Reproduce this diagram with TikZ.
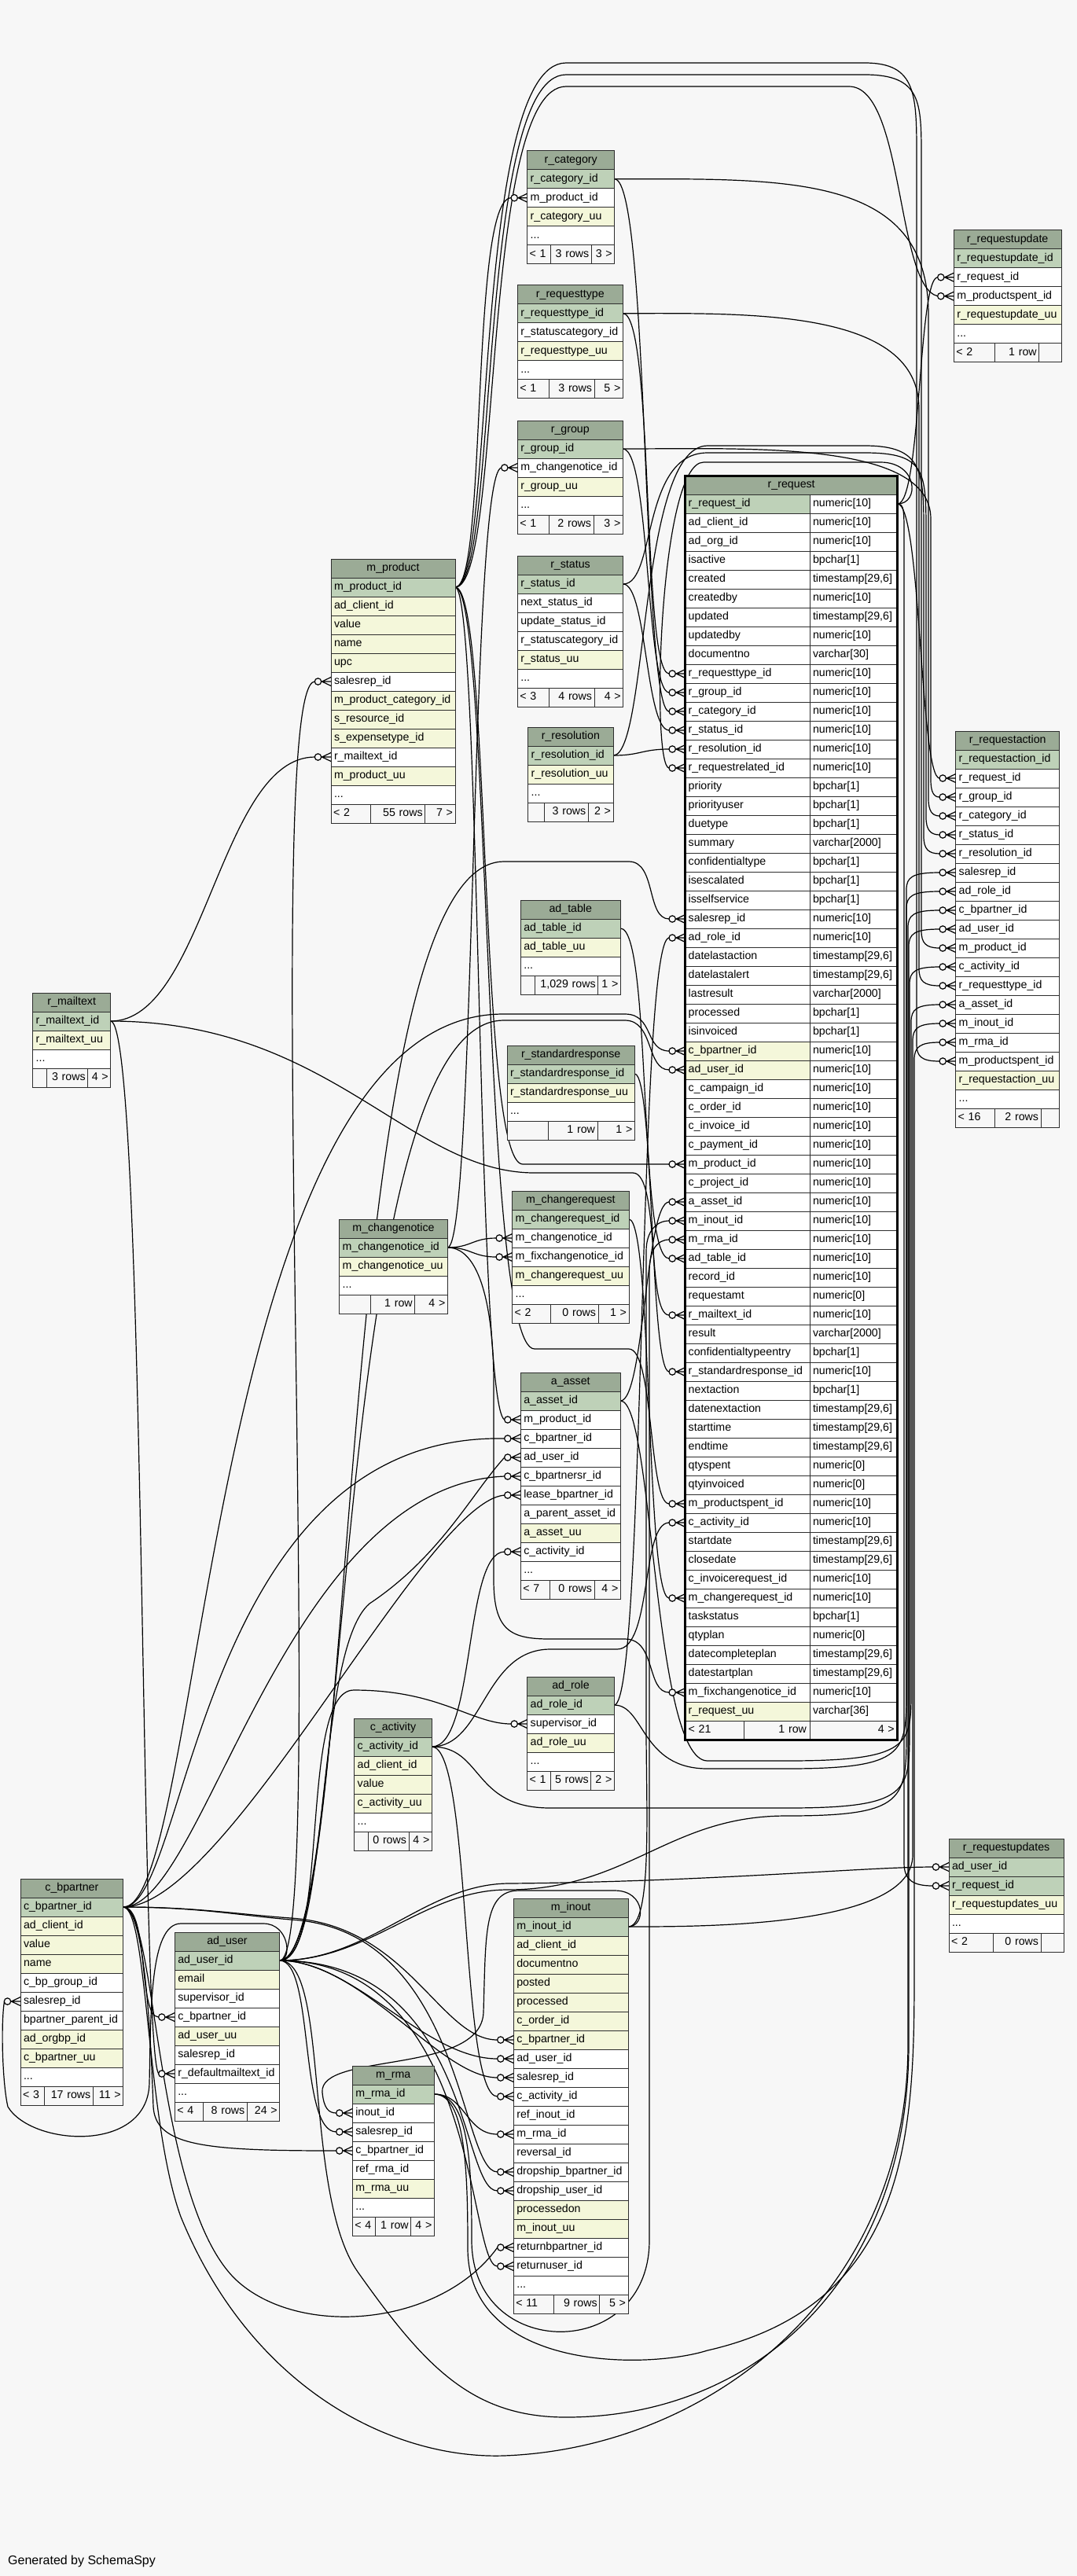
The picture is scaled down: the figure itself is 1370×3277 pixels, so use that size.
\documentclass[tikz,border=0pt]{standalone}
\usepackage{fontspec}
\setmainfont{Liberation Sans}
\pgfdeclarelayer{back}
\pgfdeclarelayer{edges}
\pgfsetlayers{back,edges,main}
\definecolor{hdc}{HTML}{9BAB96}
\definecolor{pkc}{HTML}{BED1B8}
\definecolor{ixc}{HTML}{F4F7DA}
\definecolor{bgc}{HTML}{F7F7F7}
\definecolor{bdc}{HTML}{2E2E2E}
\newcommand\cellfont{\fontsize{14.2}{17}\selectfont}
\tikzset{
  cell/.style={draw=bdc, line width=1pt, inner xsep=4pt, inner ysep=0pt, outer sep=0pt,
    minimum height=24pt, text height=11pt, text depth=3.5pt, font=\cellfont,
    anchor=north west, align=left},
  hd/.style={fill=hdc, align=center},
  pk/.style={fill=pkc},
  ix/.style={fill=ixc},
  pl/.style={fill=white},
  ft/.style={fill=bgc},
  fkline/.style={draw=black, line width=1.2pt},
}
\newcommand\tstart[5]{%
  \pgfmathsetmacro\tbX{#2}\pgfmathsetmacro\tbY{#3}\pgfmathsetmacro\tbW{#4}%
  \pgfmathsetmacro\tbT{#4-8}%
  \node[cell,hd,text width=\tbT pt] (#1) at (\tbX,\tbY) {\detokenize{#5}};%
  \pgfmathsetmacro\tbY{#3+24}}
\newcommand\trow[3]{%
  \node[cell,#3,text width=\tbT pt] (#1-#2) at (\tbX,\tbY) {\detokenize{#2}};%
  \pgfmathsetmacro\tbY{\tbY+24}}
\newcommand\tdots[1]{%
  \node[cell,pl,text width=\tbT pt] (#1-dots) at (\tbX,\tbY) {...};%
  \pgfmathsetmacro\tbY{\tbY+24}}
\newcommand\tfoot[6]{%
  \pgfmathsetmacro\fwa{#2-\tbX-6}\pgfmathsetmacro\fwb{#3-#2-6}\pgfmathsetmacro\fwc{\tbX+\tbW-#3-6}%
  \node[cell,ft,inner xsep=3pt,text width=\fwa pt] (#1-f1) at (\tbX,\tbY) {\mbox{#4}};%
  \node[cell,ft,inner xsep=3pt,text width=\fwb pt,align=right] (#1-f2) at (#2,\tbY) {\mbox{#5}};%
  \node[cell,ft,inner xsep=3pt,text width=\fwc pt,align=right] (#1-f3) at (#3,\tbY) {\mbox{#6}};}
\newcommand\rqrow[3]{%
  \node[cell,#2,text width=150.3pt] (rq-#1) at (871.7,\tbY) {\detokenize{#1}};%
  \node[cell,pl,text width=103.7pt] (rq-#1-t) at (1030,\tbY) {#3};%
  \pgfmathsetmacro\tbY{\tbY+24}}
\newcommand\crow[1]{%
  \draw[fkline] ([xshift=-20.5pt]#1.west) -- (#1.west)
    ([xshift=-11.5pt]#1.west) -- ([yshift=5.5pt]#1.west)
    ([xshift=-11.5pt]#1.west) -- ([yshift=-5.5pt]#1.west);%
  \draw[fkline,fill=bgc] ([xshift=-16.5pt]#1.west) circle[radius=4.2pt];}
\newcommand\fkp[3]{%
  \begin{pgfonlayer}{edges}\draw[fkline] (#1.east) #2 ([xshift=-20.5pt]#3.west);\end{pgfonlayer}%
  \crow{#3}}
\newcommand\fk[4]{\fkp{#1}{.. controls +(#3,0) and +(-#4,0) ..}{#2}}
\begin{document}
\begin{tikzpicture}[x=1pt,y=-1pt]
\useasboundingbox (0,0) rectangle (1370,3277);
\begin{pgfonlayer}{back}\fill[bgc] (0,0) rectangle (1370,3277);\end{pgfonlayer}

% ---------------- tables ----------------
\tstart{rcat}{670.7}{191.7}{111}{r_category}
\trow{rcat}{r_category_id}{pk}
\trow{rcat}{m_product_id}{pl}
\trow{rcat}{r_category_uu}{ix}
\tdots{rcat}
\tfoot{rcat}{700}{752.3}{< 1}{3 rows}{3 >}

\tstart{rtype}{658.3}{362.7}{134}{r_requesttype}
\trow{rtype}{r_requesttype_id}{pk}
\trow{rtype}{r_statuscategory_id}{pl}
\trow{rtype}{r_requesttype_uu}{ix}
\tdots{rtype}
\tfoot{rtype}{698.3}{756}{< 1}{3 rows}{5 >}

\tstart{rgrp}{658.3}{535}{134}{r_group}
\trow{rgrp}{r_group_id}{pk}
\trow{rgrp}{m_changenotice_id}{pl}
\trow{rgrp}{r_group_uu}{ix}
\tdots{rgrp}
\tfoot{rgrp}{698.3}{755}{< 1}{2 rows}{3 >}

\tstart{rupd}{1213.3}{292.7}{136.7}{r_requestupdate}
\trow{rupd}{r_requestupdate_id}{pk}
\trow{rupd}{r_request_id}{pl}
\trow{rupd}{m_productspent_id}{pl}
\trow{rupd}{r_requestupdate_uu}{ix}
\tdots{rupd}
\tfoot{rupd}{1265}{1321.7}{< 2}{1 row}{}

\tstart{mprod}{421}{711}{158}{m_product}
\trow{mprod}{m_product_id}{pk}
\trow{mprod}{ad_client_id}{ix}
\trow{mprod}{value}{ix}
\trow{mprod}{name}{ix}
\trow{mprod}{upc}{ix}
\trow{mprod}{salesrep_id}{pl}
\trow{mprod}{m_product_category_id}{ix}
\trow{mprod}{s_resource_id}{ix}
\trow{mprod}{s_expensetype_id}{ix}
\trow{mprod}{r_mailtext_id}{pl}
\trow{mprod}{m_product_uu}{ix}
\tdots{mprod}
\tfoot{mprod}{471}{540.7}{< 2}{55 rows}{7 >}

\tstart{rstat}{658.3}{707}{134.4}{r_status}
\trow{rstat}{r_status_id}{pk}
\trow{rstat}{next_status_id}{pl}
\trow{rstat}{update_status_id}{pl}
\trow{rstat}{r_statuscategory_id}{pl}
\trow{rstat}{r_status_uu}{ix}
\tdots{rstat}
\tfoot{rstat}{698.3}{756}{< 3}{4 rows}{4 >}

\tstart{rres}{671.7}{925}{108.3}{r_resolution}
\trow{rres}{r_resolution_id}{pk}
\trow{rres}{r_resolution_uu}{ix}
\tdots{rres}
\tfoot{rres}{692.7}{748.3}{}{3 rows}{2 >}

\tstart{adtab}{662.3}{1145}{127}{ad_table}
\trow{adtab}{ad_table_id}{pk}
\trow{adtab}{ad_table_uu}{ix}
\tdots{adtab}
\tfoot{adtab}{680}{760.7}{}{1,029 rows}{1 >}

\tstart{rstd}{645}{1330}{162.3}{r_standardresponse}
\trow{rstd}{r_standardresponse_id}{pk}
\trow{rstd}{r_standardresponse_uu}{ix}
\tdots{rstd}
\tfoot{rstd}{697.7}{760}{}{1 row}{1 >}

\tstart{ract}{1215.7}{930}{132}{r_requestaction}
\trow{ract}{r_requestaction_id}{pk}
\trow{ract}{r_request_id}{pl}
\trow{ract}{r_group_id}{pl}
\trow{ract}{r_category_id}{pl}
\trow{ract}{r_status_id}{pl}
\trow{ract}{r_resolution_id}{pl}
\trow{ract}{salesrep_id}{pl}
\trow{ract}{ad_role_id}{pl}
\trow{ract}{c_bpartner_id}{pl}
\trow{ract}{ad_user_id}{pl}
\trow{ract}{m_product_id}{pl}
\trow{ract}{c_activity_id}{pl}
\trow{ract}{r_requesttype_id}{pl}
\trow{ract}{a_asset_id}{pl}
\trow{ract}{m_inout_id}{pl}
\trow{ract}{m_rma_id}{pl}
\trow{ract}{m_productspent_id}{pl}
\trow{ract}{r_requestaction_uu}{ix}
\tdots{ract}
\tfoot{ract}{1265.7}{1324}{< 16}{2 rows}{}

\tstart{rmail}{41.7}{1263}{99}{r_mailtext}
\trow{rmail}{r_mailtext_id}{pk}
\trow{rmail}{r_mailtext_uu}{ix}
\tdots{rmail}
\tfoot{rmail}{59}{111.7}{}{3 rows}{4 >}

\tstart{mcn}{431.7}{1551}{137.6}{m_changenotice}
\trow{mcn}{m_changenotice_id}{pk}
\trow{mcn}{m_changenotice_uu}{ix}
\tdots{mcn}
\tfoot{mcn}{471.7}{527.7}{}{1 row}{4 >}

\tstart{mcr}{651.7}{1515}{148.3}{m_changerequest}
\trow{mcr}{m_changerequest_id}{pk}
\trow{mcr}{m_changenotice_id}{pl}
\trow{mcr}{m_fixchangenotice_id}{pl}
\trow{mcr}{m_changerequest_uu}{ix}
\tdots{mcr}
\tfoot{mcr}{700}{761}{< 2}{0 rows}{1 >}

\tstart{asset}{662.3}{1746}{127}{a_asset}
\trow{asset}{a_asset_id}{pk}
\trow{asset}{m_product_id}{pl}
\trow{asset}{c_bpartner_id}{pl}
\trow{asset}{ad_user_id}{pl}
\trow{asset}{c_bpartnersr_id}{pl}
\trow{asset}{lease_bpartner_id}{pl}
\trow{asset}{a_parent_asset_id}{pl}
\trow{asset}{a_asset_uu}{ix}
\trow{asset}{c_activity_id}{pl}
\tdots{asset}
\tfoot{asset}{699.3}{756}{< 7}{0 rows}{4 >}

\tstart{adrole}{670.7}{2133}{110.6}{ad_role}
\trow{adrole}{ad_role_id}{pk}
\trow{adrole}{supervisor_id}{pl}
\trow{adrole}{ad_role_uu}{ix}
\tdots{adrole}
\tfoot{adrole}{700}{751.7}{< 1}{5 rows}{2 >}

\tstart{cact}{450.7}{2186}{98.6}{c_activity}
\trow{cact}{c_activity_id}{pk}
\trow{cact}{ad_client_id}{ix}
\trow{cact}{value}{ix}
\trow{cact}{c_activity_uu}{ix}
\tdots{cact}
\tfoot{cact}{468.3}{520}{}{0 rows}{4 >}

\tstart{rups}{1207}{2339}{146}{r_requestupdates}
\trow{rups}{ad_user_id}{pk}
\trow{rups}{r_request_id}{pk}
\trow{rups}{r_requestupdates_uu}{ix}
\tdots{rups}
\tfoot{rups}{1263}{1324}{< 2}{0 rows}{}

\tstart{bp}{26}{2390}{130.7}{c_bpartner}
\trow{bp}{c_bpartner_id}{pk}
\trow{bp}{ad_client_id}{ix}
\trow{bp}{value}{ix}
\trow{bp}{name}{ix}
\trow{bp}{c_bp_group_id}{pl}
\trow{bp}{salesrep_id}{pl}
\trow{bp}{bpartner_parent_id}{pl}
\trow{bp}{ad_orgbp_id}{ix}
\trow{bp}{c_bpartner_uu}{ix}
\tdots{bp}
\tfoot{bp}{56.7}{118.3}{< 3}{17 rows}{11 >}

\tstart{aduser}{222.3}{2458}{133.4}{ad_user}
\trow{aduser}{ad_user_id}{pk}
\trow{aduser}{email}{ix}
\trow{aduser}{supervisor_id}{pl}
\trow{aduser}{c_bpartner_id}{pl}
\trow{aduser}{ad_user_uu}{ix}
\trow{aduser}{salesrep_id}{pl}
\trow{aduser}{r_defaultmailtext_id}{pl}
\tdots{aduser}
\tfoot{aduser}{258.3}{314.3}{< 4}{8 rows}{24 >}

\tstart{minout}{653.3}{2415}{145.7}{m_inout}
\trow{minout}{m_inout_id}{pk}
\trow{minout}{ad_client_id}{ix}
\trow{minout}{documentno}{ix}
\trow{minout}{posted}{ix}
\trow{minout}{processed}{ix}
\trow{minout}{c_order_id}{ix}
\trow{minout}{c_bpartner_id}{ix}
\trow{minout}{ad_user_id}{pl}
\trow{minout}{salesrep_id}{pl}
\trow{minout}{c_activity_id}{pl}
\trow{minout}{ref_inout_id}{pl}
\trow{minout}{m_rma_id}{pl}
\trow{minout}{reversal_id}{pl}
\trow{minout}{dropship_bpartner_id}{pl}
\trow{minout}{dropship_user_id}{pl}
\trow{minout}{processedon}{ix}
\trow{minout}{m_inout_uu}{ix}
\trow{minout}{returnbpartner_id}{pl}
\trow{minout}{returnuser_id}{pl}
\tdots{minout}
\tfoot{minout}{704}{762.7}{< 11}{9 rows}{5 >}

\tstart{mrma}{448.3}{2628}{104}{m_rma}
\trow{mrma}{m_rma_id}{pk}
\trow{mrma}{inout_id}{pl}
\trow{mrma}{salesrep_id}{pl}
\trow{mrma}{c_bpartner_id}{pl}
\trow{mrma}{ref_rma_id}{pl}
\trow{mrma}{m_rma_uu}{ix}
\tdots{mrma}
\tfoot{mrma}{477.3}{522.7}{< 4}{1 row}{4 >}

% r_request
\node[cell,hd,text width=262pt] (rq) at (871.7,605) {r\_request};
\def\tbY{629}
\rqrow{r_request_id}{pk}{numeric[10]}
\rqrow{ad_client_id}{pl}{numeric[10]}
\rqrow{ad_org_id}{pl}{numeric[10]}
\rqrow{isactive}{pl}{bpchar[1]}
\rqrow{created}{pl}{timestamp[29,6]}
\rqrow{createdby}{pl}{numeric[10]}
\rqrow{updated}{pl}{timestamp[29,6]}
\rqrow{updatedby}{pl}{numeric[10]}
\rqrow{documentno}{pl}{varchar[30]}
\rqrow{r_requesttype_id}{pl}{numeric[10]}
\rqrow{r_group_id}{pl}{numeric[10]}
\rqrow{r_category_id}{pl}{numeric[10]}
\rqrow{r_status_id}{pl}{numeric[10]}
\rqrow{r_resolution_id}{pl}{numeric[10]}
\rqrow{r_requestrelated_id}{pl}{numeric[10]}
\rqrow{priority}{pl}{bpchar[1]}
\rqrow{priorityuser}{pl}{bpchar[1]}
\rqrow{duetype}{pl}{bpchar[1]}
\rqrow{summary}{pl}{varchar[2000]}
\rqrow{confidentialtype}{pl}{bpchar[1]}
\rqrow{isescalated}{pl}{bpchar[1]}
\rqrow{isselfservice}{pl}{bpchar[1]}
\rqrow{salesrep_id}{pl}{numeric[10]}
\rqrow{ad_role_id}{pl}{numeric[10]}
\rqrow{datelastaction}{pl}{timestamp[29,6]}
\rqrow{datelastalert}{pl}{timestamp[29,6]}
\rqrow{lastresult}{pl}{varchar[2000]}
\rqrow{processed}{pl}{bpchar[1]}
\rqrow{isinvoiced}{pl}{bpchar[1]}
\rqrow{c_bpartner_id}{ix}{numeric[10]}
\rqrow{ad_user_id}{ix}{numeric[10]}
\rqrow{c_campaign_id}{pl}{numeric[10]}
\rqrow{c_order_id}{pl}{numeric[10]}
\rqrow{c_invoice_id}{pl}{numeric[10]}
\rqrow{c_payment_id}{pl}{numeric[10]}
\rqrow{m_product_id}{pl}{numeric[10]}
\rqrow{c_project_id}{pl}{numeric[10]}
\rqrow{a_asset_id}{pl}{numeric[10]}
\rqrow{m_inout_id}{pl}{numeric[10]}
\rqrow{m_rma_id}{pl}{numeric[10]}
\rqrow{ad_table_id}{pl}{numeric[10]}
\rqrow{record_id}{pl}{numeric[10]}
\rqrow{requestamt}{pl}{numeric[0]}
\rqrow{r_mailtext_id}{pl}{numeric[10]}
\rqrow{result}{pl}{varchar[2000]}
\rqrow{confidentialtypeentry}{pl}{bpchar[1]}
\rqrow{r_standardresponse_id}{pl}{numeric[10]}
\rqrow{nextaction}{pl}{bpchar[1]}
\rqrow{datenextaction}{pl}{timestamp[29,6]}
\rqrow{starttime}{pl}{timestamp[29,6]}
\rqrow{endtime}{pl}{timestamp[29,6]}
\rqrow{qtyspent}{pl}{numeric[0]}
\rqrow{qtyinvoiced}{pl}{numeric[0]}
\rqrow{m_productspent_id}{pl}{numeric[10]}
\rqrow{c_activity_id}{pl}{numeric[10]}
\rqrow{startdate}{pl}{timestamp[29,6]}
\rqrow{closedate}{pl}{timestamp[29,6]}
\rqrow{c_invoicerequest_id}{pl}{numeric[10]}
\rqrow{m_changerequest_id}{pl}{numeric[10]}
\rqrow{taskstatus}{pl}{bpchar[1]}
\rqrow{qtyplan}{pl}{numeric[0]}
\rqrow{datecompleteplan}{pl}{timestamp[29,6]}
\rqrow{datestartplan}{pl}{timestamp[29,6]}
\rqrow{m_fixchangenotice_id}{pl}{numeric[10]}
\rqrow{r_request_uu}{ix}{varchar[36]}
\node[cell,ft,text width=67pt] (rq-f1) at (871.7,\tbY) {< 21};
\node[cell,ft,text width=75.3pt,align=right] (rq-f2) at (946.7,\tbY) {1 row};
\node[cell,ft,text width=103.7pt,align=right] (rq-f3) at (1030,\tbY) {4 >};
\draw[line width=3pt,draw=black] (871.7,605) rectangle (1141.7,2213);

% ---------------- relationships ----------------
% r_request
\fk{rq-r_request_id-t}{rupd-r_request_id}{30}{25}
\fk{rq-r_request_id-t}{ract-r_request_id}{30}{25}
\fkp{rq-r_request_id-t}{.. controls (1150,641) and (1150,650) .. (1150,680) -- (1150,2370) .. controls (1150,2392) and (1162,2399) ..}{rups-r_request_id}
\fkp{rq-r_request_id-t}{.. controls (1170,641) and (1168,588) .. (1120,588) -- (895,588) .. controls (838,588) and (828,977) ..}{rq-r_requestrelated_id}
% r_requesttype
\fk{rtype-r_requesttype_id}{rq-r_requesttype_id}{40}{35}
\fkp{rtype-r_requesttype_id}{.. controls (950,398.7) and (1169,392) .. (1169,520) -- (1169,1232) .. controls (1169,1248) and (1175,1254) ..}{ract-r_requesttype_id}
% r_group
\fk{rgrp-r_group_id}{rq-r_group_id}{35}{30}
\fkp{rgrp-r_group_id}{.. controls (950,571) and (1184,560) .. (1184,660) -- (1184,992) .. controls (1184,1008) and (1188,1014) ..}{ract-r_group_id}
% r_category
\fk{rcat-r_category_id}{rq-r_category_id}{45}{35}
\fkp{rcat-r_category_id}{.. controls (1000,227.7) and (1181,220) .. (1181,400) -- (1181,1016) .. controls (1181,1032) and (1186,1038) ..}{ract-r_category_id}
% r_status
\fk{rstat-r_status_id}{rq-r_status_id}{30}{30}
\fkp{rstat-r_status_id}{.. controls (835,743) and (815,576) .. (900,576) -- (1100,576) .. controls (1178,576) and (1178,600) .. (1178,680) -- (1178,1040) .. controls (1178,1056) and (1184,1062) ..}{ract-r_status_id}
% r_resolution
\fk{rres-r_resolution_id}{rq-r_resolution_id}{35}{35}
\fkp{rres-r_resolution_id}{.. controls (825,961) and (812,567) .. (900,567) -- (1100,567) .. controls (1175,567) and (1175,600) .. (1175,680) -- (1175,1064) .. controls (1175,1080) and (1181,1086) ..}{ract-r_resolution_id}
% single ones
\fk{adtab-ad_table_id}{rq-ad_table_id}{40}{40}
\fk{rstd-r_standardresponse_id}{rq-r_standardresponse_id}{25}{25}
\fk{mcr-m_changerequest_id}{rq-m_changerequest_id}{30}{30}
% r_mailtext
\fkp{rmail-r_mailtext_id}{.. controls (260,1299) and (280,963) ..}{mprod-r_mailtext_id}
\fkp{rmail-r_mailtext_id}{.. controls (420,1299) and (520,1492) .. (680,1492) -- (805,1492) .. controls (840,1492) and (822,1673) ..}{rq-r_mailtext_id}
\fkp{rmail-r_mailtext_id}{.. controls (185,1299) and (178,2610) ..}{aduser-r_defaultmailtext_id}
% m_changenotice
\fkp{mcn-m_changenotice_id}{.. controls (605,1587) and (598,600) ..}{rgrp-m_changenotice_id}
\fk{mcn-m_changenotice_id}{mcr-m_changenotice_id}{30}{30}
\fk{mcn-m_changenotice_id}{mcr-m_fixchangenotice_id}{30}{30}
\fkp{mcn-m_changenotice_id}{.. controls (615,1587) and (628,1680) .. (628,1760) -- (628,2010) .. controls (628,2075) and (650,2085) .. (700,2085) -- (795,2085) .. controls (835,2085) and (822,2153) ..}{rq-m_fixchangenotice_id}
% m_product
\fkp{mprod-m_product_id}{.. controls (620,747) and (598,251.7) ..}{rcat-m_product_id}
\fkp{mprod-m_product_id}{.. controls (625,747) and (608,1481) .. (665,1481) --}{rq-m_product_id}
\fkp{mprod-m_product_id}{.. controls (625,747) and (612,1716) .. (680,1716) -- (800,1716) .. controls (832,1716) and (825,1913) ..}{rq-m_productspent_id}
\fkp{mprod-m_product_id}{.. controls (612,747) and (606,1790) ..}{asset-m_product_id}
\fkp{mprod-m_product_id}{.. controls (640,747) and (610,110) .. (720,110) -- (1080,110) .. controls (1150,110) and (1140,364.7) ..}{rupd-m_productspent_id}
\fkp{mprod-m_product_id}{.. controls (635,747) and (605,95) .. (720,95) -- (1100,95) .. controls (1172,95) and (1172,130) .. (1172,200) -- (1172,1184) .. controls (1172,1200) and (1178,1206) ..}{ract-m_product_id}
\fkp{mprod-m_product_id}{.. controls (630,747) and (600,80) .. (720,80) -- (1100,80) .. controls (1166,80) and (1166,120) .. (1166,200) -- (1166,1328) .. controls (1166,1344) and (1172,1350) ..}{ract-m_productspent_id}
% a_asset
\fk{asset-a_asset_id}{rq-a_asset_id}{30}{30}
\fkp{asset-a_asset_id}{.. controls (832,1782) and (830,2240) .. (900,2240) -- (1000,2240) .. controls (1159,2240) and (1159,2220) .. (1159,2150) -- (1159,1300) .. controls (1159,1284) and (1166,1278) ..}{ract-a_asset_id}
% ad_role
\fk{adrole-ad_role_id}{rq-ad_role_id}{40}{40}
\fkp{adrole-ad_role_id}{.. controls (820,2169) and (815,2250) .. (900,2250) -- (1000,2250) .. controls (1153,2250) and (1153,2230) .. (1153,2150) -- (1153,1156) .. controls (1153,1140) and (1160,1134) ..}{ract-ad_role_id}
% c_activity
\fkp{cact-c_activity_id}{.. controls (605,2222) and (590,1974) ..}{asset-c_activity_id}
\fkp{cact-c_activity_id}{.. controls (615,2222) and (615,2098) .. (700,2098) -- (785,2098) .. controls (830,2098) and (815,1937) ..}{rq-c_activity_id}
\fkp{cact-c_activity_id}{.. controls (600,2222) and (585,2667) ..}{minout-c_activity_id}
\fkp{cact-c_activity_id}{.. controls (615,2222) and (600,2300) .. (700,2300) -- (1000,2300) .. controls (1157,2300) and (1157,2280) .. (1157,2200) -- (1157,1252) .. controls (1157,1236) and (1164,1230) ..}{ract-c_activity_id}
% c_bpartner
\fkp{bp-c_bpartner_id}{.. controls (260,2426) and (262,1290) .. (640,1290) -- (795,1290) .. controls (832,1290) and (820,1337) ..}{rq-c_bpartner_id}
\fkp{bp-c_bpartner_id}{.. controls (240,2426) and (250,1822) ..}{asset-c_bpartner_id}
\fkp{bp-c_bpartner_id}{.. controls (260,2426) and (360,1890) ..}{asset-c_bpartnersr_id}
\fkp{bp-c_bpartner_id}{.. controls (290,2426) and (540,1910) ..}{asset-lease_bpartner_id}
\fkp{bp-c_bpartner_id}{.. controls (190,2426) and (175,2566) ..}{aduser-c_bpartner_id}
\fkp{bp-c_bpartner_id}{.. controls (250,2426) and (300,2435) .. (370,2440) .. controls (520,2450) and (560,2595) ..}{minout-c_bpartner_id}
\fkp{bp-c_bpartner_id}{.. controls (250,2426) and (300,2436) .. (370,2442) .. controls (590,2455) and (585,2763) ..}{minout-dropship_bpartner_id}
\fkp{bp-c_bpartner_id}{.. controls (200,2426) and (196,2800) .. (300,2900) .. controls (380,2975) and (560,2960) ..}{minout-returnbpartner_id}
\fkp{bp-c_bpartner_id}{.. controls (185,2426) and (192,2600) .. (195,2680) .. controls (198,2730) and (260,2736) ..}{mrma-c_bpartner_id}
\fkp{bp-c_bpartner_id}{.. controls (188,2426) and (186,2700) .. (230,2820) .. controls (320,3040) and (500,3128) .. (640,3124) .. controls (900,3115) and (1155,2920) .. (1155,2600) -- (1155,1180) .. controls (1155,1164) and (1162,1158) ..}{ract-c_bpartner_id}
% ad_user
\fkp{aduser-ad_user_id}{.. controls (460,2494) and (420,1100) .. (640,1096) -- (800,1096) .. controls (835,1096) and (822,1169) ..}{rq-salesrep_id}
\fkp{aduser-ad_user_id}{.. controls (450,2494) and (420,1300) .. (640,1298) -- (795,1298) .. controls (832,1298) and (822,1361) ..}{rq-ad_user_id}
\fkp{aduser-ad_user_id}{.. controls (420,2494) and (330,867) ..}{mprod-salesrep_id}
\fkp{aduser-ad_user_id}{.. controls (420,2494) and (400,2100) .. (470,2040) .. controls (560,1980) and (600,1900) ..}{asset-ad_user_id}
\fkp{aduser-ad_user_id}{.. controls (420,2494) and (380,2150) .. (450,2150) .. controls (560,2150) and (600,2193) ..}{adrole-supervisor_id}
\fkp{aduser-ad_user_id}{.. controls (372,2494) and (368,2447) .. (335,2447) -- (230,2447) .. controls (190,2447) and (192,2560) .. (190,2650) .. controls (188,2740) and (40,2730) .. (10,2680) .. controls (3,2650) and (1,2575) ..}{bp-salesrep_id}
\fkp{aduser-ad_user_id}{.. controls (450,2494) and (540,2619) ..}{minout-ad_user_id}
\fkp{aduser-ad_user_id}{.. controls (460,2494) and (560,2643) ..}{minout-salesrep_id}
\fkp{aduser-ad_user_id}{.. controls (600,2494) and (585,2787) ..}{minout-dropship_user_id}
\fkp{aduser-ad_user_id}{.. controls (610,2494) and (595,2883) ..}{minout-returnuser_id}
\fkp{aduser-ad_user_id}{.. controls (400,2494) and (380,2712) ..}{mrma-salesrep_id}
\fkp{aduser-ad_user_id}{.. controls (470,2494) and (540,2398) .. (645,2396) .. controls (900,2394) and (1100,2375) ..}{rups-ad_user_id}
\fkp{aduser-ad_user_id}{.. controls (470,2494) and (540,2404) .. (645,2404) .. controls (800,2404) and (850,2310) .. (1000,2310) .. controls (1153,2310) and (1153,2290) .. (1153,2200) -- (1153,1132) .. controls (1153,1116) and (1160,1110) ..}{ract-salesrep_id}
\fkp{aduser-ad_user_id}{.. controls (420,2494) and (385,2790) .. (455,2890) .. controls (540,3010) and (600,3075) .. (720,3075) .. controls (960,3075) and (1156,2900) .. (1156,2600) -- (1156,1204) .. controls (1156,1188) and (1163,1182) ..}{ract-ad_user_id}
% m_inout
\fkp{minout-m_inout_id}{.. controls (830,2451) and (822,2300) .. (822,2200) -- (822,1592) .. controls (822,1566) and (835,1553) ..}{rq-m_inout_id}
\fkp{minout-m_inout_id}{.. controls (900,2451) and (1161,2451) .. (1161,2360) -- (1161,1324) .. controls (1161,1308) and (1168,1302) ..}{ract-m_inout_id}
\fkp{minout-m_inout_id}{.. controls (822,2451) and (822,2405) .. (782,2405) -- (660,2405) .. controls (615,2405) and (618,2460) .. (615,2560) .. controls (612,2640) and (405,2610) .. (410,2662) .. controls (412,2682) and (418,2688) ..}{mrma-inout_id}
% m_rma
\fk{mrma-m_rma_id}{minout-m_rma_id}{40}{40}
\fkp{mrma-m_rma_id}{.. controls (598,2664) and (600,2760) .. (600,2850) .. controls (600,3005) and (826,3005) .. (826,2850) -- (826,1618) .. controls (826,1590) and (836,1577) ..}{rq-m_rma_id}
\fkp{mrma-m_rma_id}{.. controls (592,2664) and (595,2760) .. (595,2860) .. controls (595,3015) and (820,3015) .. (900,2990) .. controls (1163,2930) and (1163,2700) .. (1163,2500) -- (1163,1348) .. controls (1163,1332) and (1170,1326) ..}{ract-m_rma_id}

\node[font=\fontsize{16}{19}\selectfont, anchor=west, inner sep=0pt] (gen) at (10,3258) {Generated by SchemaSpy};
\end{tikzpicture}
\end{document}
